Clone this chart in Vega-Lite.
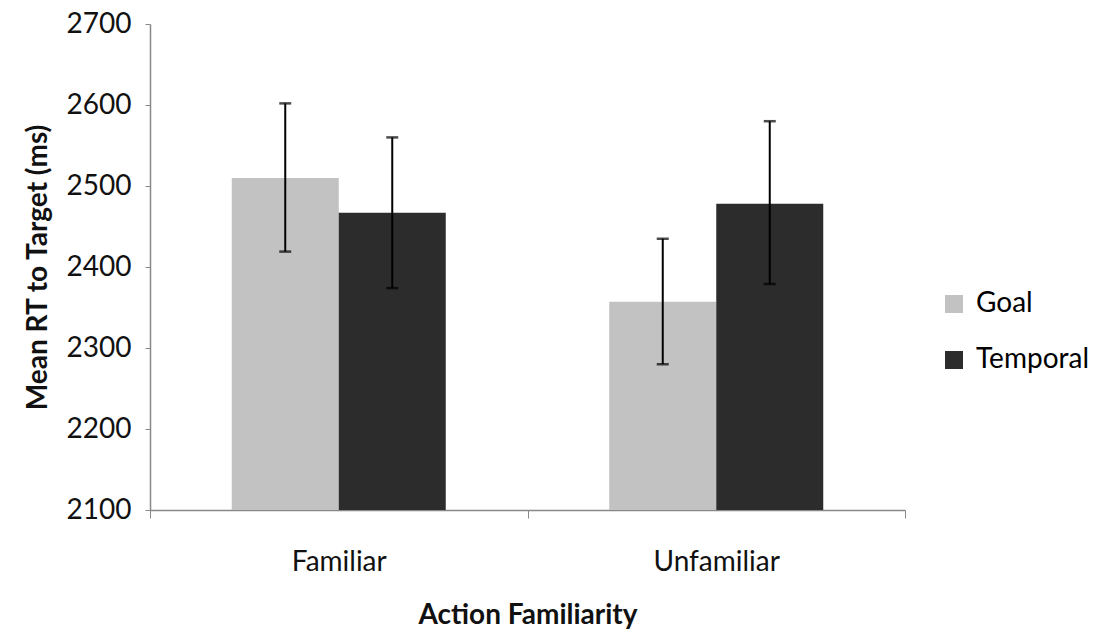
{
  "$schema": "https://vega.github.io/schema/vega-lite/v6.json",
  "autosize": "none",
  "width": 755,
  "height": 486,
  "padding": {"left": 150, "top": 24, "right": 190, "bottom": 120},
  "background": "white",
  "config": {
    "font": "Lato",
    "view": {"stroke": null},
    "axis": {"grid": false, "domainColor": "#888", "tickColor": "#888", "labelColor": "#111", "titleColor": "#111", "domainWidth": 1.5},
    "axisY": {
      "titleFontSize": 28, "titleFontWeight": "bold", "titlePadding": 14,
      "labelFontSize": 28, "labelPadding": 14, "format": "d", "labelOverlap": false,
      "tickCount": 6, "tickSize": 5
    },
    "axisX": {
      "titleFontSize": 28, "titleFontWeight": "bold", "titlePadding": 25,
      "labelFontSize": 28, "labelAngle": 0, "labelPadding": 30,
      "tickBand": "extent", "tickSize": 8
    }
  },
  "data": {
    "values": [
      {"familiarity": "Familiar", "condition": "Goal", "rt": 2510, "lo": 2419, "hi": 2602},
      {"familiarity": "Familiar", "condition": "Temporal", "rt": 2467, "lo": 2374, "hi": 2560},
      {"familiarity": "Unfamiliar", "condition": "Goal", "rt": 2357, "lo": 2280, "hi": 2435},
      {"familiarity": "Unfamiliar", "condition": "Temporal", "rt": 2478, "lo": 2379, "hi": 2580}
    ]
  },
  "encoding": {
    "x": {
      "field": "familiarity", "type": "nominal",
      "scale": {"paddingInner": 0, "paddingOuter": 0},
      "title": "Action Familiarity"
    },
    "xOffset": {"field": "condition", "type": "nominal", "scale": {"paddingInner": 0, "paddingOuter": 0.764}}
  },
  "layer": [
    {
      "mark": {"type": "bar"},
      "encoding": {
        "y": {
          "field": "rt", "type": "quantitative",
          "scale": {"domain": [2100, 2700], "zero": false, "nice": false},
          "title": "Mean RT to Target (ms)"
        },
        "y2": {"datum": 2100},
        "color": {
          "field": "condition", "type": "nominal",
          "scale": {"domain": ["Goal", "Temporal"], "range": ["#c2c2c2", "#2c2c2c"]},
          "legend": {
            "title": null, "orient": "none", "legendX": 790, "legendY": 266,
            "labelFontSize": 28, "symbolType": "square", "symbolSize": 324, "symbolStrokeWidth": 0,
            "rowPadding": 28, "labelOffset": 8
          }
        }
      }
    },
    {
      "mark": {"type": "rule", "color": "black", "strokeWidth": 2},
      "encoding": {
        "y": {"field": "lo", "type": "quantitative", "title": "Mean RT to Target (ms)"},
        "y2": {"field": "hi"}
      }
    },
    {
      "mark": {"type": "tick", "color": "black", "size": 12, "thickness": 2.5},
      "encoding": {"y": {"field": "lo", "type": "quantitative", "title": "Mean RT to Target (ms)"}}
    },
    {
      "mark": {"type": "tick", "color": "black", "size": 12, "thickness": 2.5},
      "encoding": {"y": {"field": "hi", "type": "quantitative", "title": "Mean RT to Target (ms)"}}
    }
  ]
}
